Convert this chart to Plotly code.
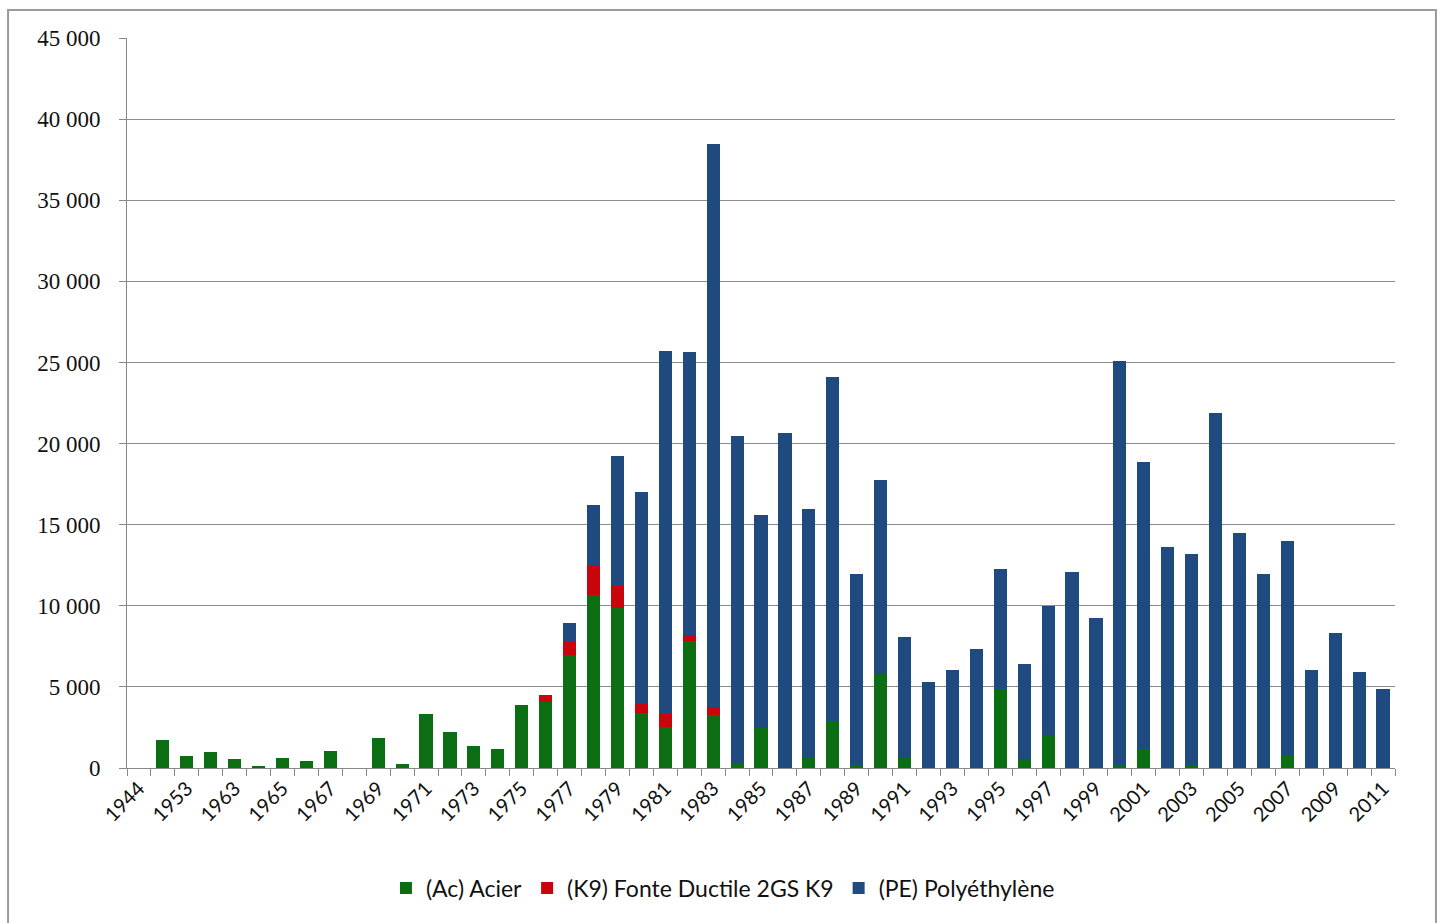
import plotly.graph_objects as go

years = ["1944", "1950", "1953", "1960", "1963", "1964", "1965", "1966", "1967", "1968",
         "1969", "1970", "1971", "1972", "1973", "1974", "1975", "1976", "1977", "1978",
         "1979", "1980", "1981", "1982", "1983", "1984", "1985", "1986", "1987", "1988",
         "1989", "1990", "1991", "1992", "1993", "1994", "1995", "1996", "1997", "1998",
         "1999", "2000", "2001", "2002", "2003", "2004", "2005", "2006", "2007", "2008",
         "2009", "2010", "2011"]

acier = [0, 1750, 730, 960, 540, 150, 630, 440, 1040, 0,
         1880, 250, 3310, 2190, 1380, 1150, 3900, 4080, 6980, 10670,
         9860, 3370, 2550, 7820, 3270, 220, 2480, 0, 630, 2900,
         210, 5780, 630, 0, 0, 0, 4900, 530, 2040, 0,
         0, 200, 1160, 0, 210, 0, 0, 0, 780, 0,
         0, 0, 0]

fonte_k9 = [0, 0, 0, 0, 0, 0, 0, 0, 0, 0,
            0, 0, 0, 0, 0, 0, 0, 410, 780, 1840,
            1370, 550, 760, 390, 510, 0, 0, 0, 0, 0,
            0, 0, 0, 0, 0, 0, 0, 0, 0, 0,
            0, 0, 0, 0, 0, 0, 0, 0, 0, 0,
            0, 0, 0]

polyethylene = [0, 0, 0, 0, 0, 0, 0, 0, 0, 0,
                0, 0, 0, 0, 0, 0, 0, 0, 1160, 3690,
                8000, 13100, 22410, 17410, 34680, 20240, 13100, 20650, 15360, 21190,
                11740, 11950, 7440, 5310, 6030, 7350, 7380, 5910, 7960, 12100,
                9260, 24920, 17710, 13600, 12980, 21890, 14510, 11980, 13230, 6030,
                8350, 5930, 4840]

series_names = ["(Ac) Acier", "(K9) Fonte Ductile 2GS K9", "(PE) Polyéthylène"]
series_colors = ["#0B6E12", "#C8050C", "#1F4A80"]

y_ticks = list(range(0, 45001, 5000))
y_ticktext = ["0"] + [f"{v // 1000} 000" for v in y_ticks[1:]]
x_ticktext = [y if i % 2 == 0 else "" for i, y in enumerate(years)]

fig = go.Figure()
for name, vals, col in zip(series_names, [acier, fonte_k9, polyethylene], series_colors):
    fig.add_trace(go.Bar(x=years, y=vals, name=name, marker=dict(color=col, line=dict(width=0))))

fig.update_layout(
    barmode="stack",
    bargap=0.45,
    width=1442, height=923,
    margin=dict(l=127, r=47, t=38, b=155),
    paper_bgcolor="white", plot_bgcolor="white",
    showlegend=True,
    legend=dict(orientation="h", x=0.47, xanchor="center", y=-0.135, yanchor="top",
                font=dict(family="Lato, 'Liberation Sans', sans-serif", size=23, color="#111111"),
                traceorder="normal", itemwidth=30, tracegroupgap=0),
    xaxis=dict(type="category", tickmode="array", tickvals=years, ticktext=x_ticktext,
               tickangle=-45, ticks="outside", tickson="boundaries", ticklen=7,
               tickcolor="#888888", showline=True, linecolor="#888888", linewidth=1,
               showgrid=False,
               tickfont=dict(family="Lato, 'Liberation Sans', sans-serif", size=20, color="#111111")),
    yaxis=dict(range=[0, 45000], tickmode="array", tickvals=y_ticks, ticktext=y_ticktext,
               showgrid=True, gridcolor="#8c8c8c", gridwidth=1,
               showline=True, linecolor="#888888", linewidth=1,
               ticks="outside", ticklen=7, tickcolor="#888888", zeroline=False,
               ticklabelstandoff=14,
               tickfont=dict(family="'Liberation Serif', 'DejaVu Serif', serif", size=23, color="#111111")),
    shapes=[dict(type="rect", xref="paper", yref="paper",
                 x0=-0.0938, x1=1.0323, y0=-0.23, y1=1.0384,
                 line=dict(color="#9a9a9a", width=2), fillcolor="rgba(0,0,0,0)", layer="below")],
    font=dict(family="Lato, sans-serif"),
)

fig.write_html("out.html", config={"displayModeBar": False},
               post_script="document.body.style.margin='0';document.body.style.overflow='hidden';")
